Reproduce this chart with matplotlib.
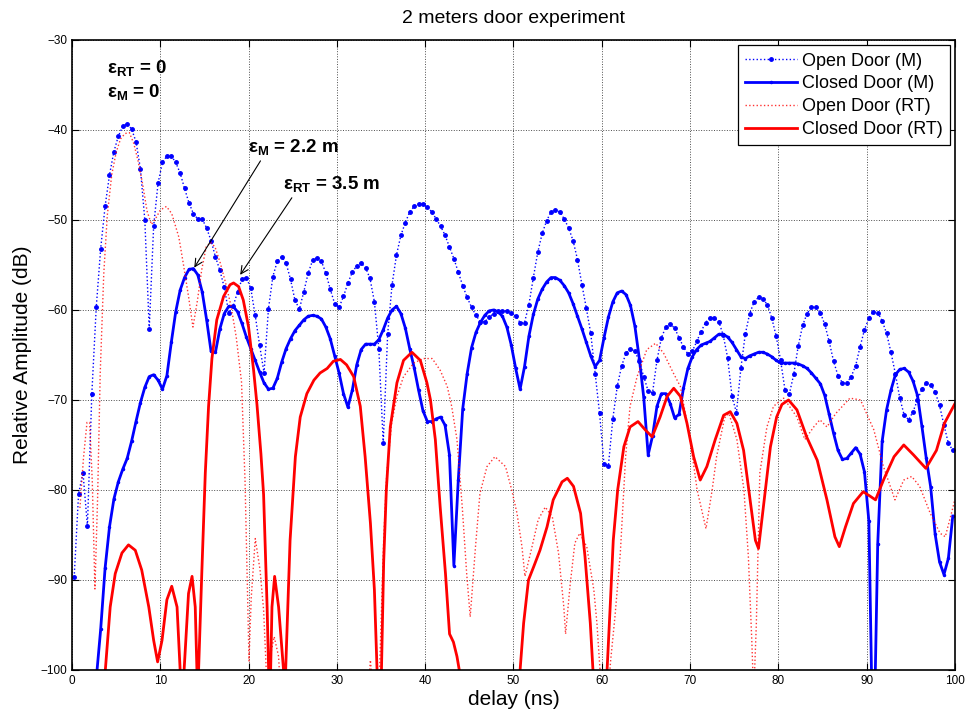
import numpy as np
import matplotlib
matplotlib.use("Agg")
import matplotlib.pyplot as plt

plt.rcParams['font.family'] = ['Liberation Sans', 'DejaVu Sans']
plt.rcParams['mathtext.fontset'] = 'custom'
plt.rcParams['mathtext.rm'] = 'Liberation Sans'
plt.rcParams['mathtext.bf'] = 'Liberation Sans:bold'

# measured data: one sample every 0.5 ns
delay_m = np.arange(0.25, 100, 0.5)

open_m = [
    -89.7, -80.4, -78.1, -84.0, -69.3, -59.7, -53.2, -48.5, -45.0, -42.4,
    -40.7, -39.6, -39.3, -39.9, -41.3, -44.3, -50.0, -62.1, -50.7, -45.9,
    -43.6, -42.9, -42.9, -43.6, -44.8, -46.5, -48.1, -49.3, -49.9, -49.9,
    -50.9, -52.3, -54.1, -55.6, -57.5, -60.3, -59.6, -58.0, -56.6, -56.4,
    -57.6, -60.6, -63.9, -67.0, -59.9, -56.3, -54.6, -54.1, -54.8, -56.6,
    -58.9, -59.9, -58.0, -55.9, -54.5, -54.2, -54.6, -55.9, -57.7, -59.3,
    -59.7, -58.5, -57.0, -55.8, -55.1, -54.8, -55.3, -56.5, -59.1, -64.3,
    -74.8, -62.7, -57.2, -53.9, -51.7, -50.3, -49.1, -48.5, -48.2, -48.2,
    -48.6, -49.1, -49.9, -50.7, -51.7, -53.0, -54.3, -55.8, -57.3, -58.6,
    -59.7, -60.6, -61.3, -61.3, -60.8, -60.4, -60.1, -60.1, -60.1, -60.3,
    -60.7, -61.4, -61.4, -59.4, -56.4, -53.6, -51.5, -50.1, -49.1, -48.9,
    -49.1, -49.9, -50.9, -52.3, -54.4, -57.2, -59.8, -62.6, -67.1, -71.5,
    -77.1, -77.3, -72.1, -68.5, -66.2, -64.8, -64.3, -64.6, -65.7, -67.4,
    -69.0, -69.2, -65.6, -63.1, -61.9, -61.6, -62.0, -63.1, -64.1, -64.9,
    -64.6, -63.5, -62.4, -61.4, -60.9, -60.9, -61.3, -62.8, -65.3, -69.6,
    -71.4, -66.5, -62.7, -60.4, -59.1, -58.6, -58.8, -59.4, -60.9, -62.9,
    -65.6, -68.9, -69.3, -67.1, -64.0, -61.7, -60.4, -59.7, -59.7, -60.3,
    -61.6, -63.5, -65.7, -67.3, -68.1, -68.1, -67.4, -66.2, -64.1, -62.2,
    -60.9, -60.2, -60.3, -61.2, -62.6, -64.7, -67.1, -69.8, -71.7, -72.2,
    -71.3, -70.0, -68.8, -68.1, -68.3, -69.1, -70.6, -72.8, -74.8, -75.6,
]

closed_m = [
    np.nan, np.nan, np.nan, np.nan, np.nan, -101, -95.5, -88.7, -84.1, -81.0,
    -79.1, -77.7, -76.5, -74.6, -72.4, -70.3, -68.6, -67.4, -67.2, -67.8,
    -68.8, -67.3, -63.6, -60.2, -57.8, -56.4, -55.5, -55.4, -56.1, -58.0,
    -61.1, -64.6, -64.7, -62.1, -60.4, -59.6, -59.6, -60.2, -61.5, -63.0,
    -64.3, -65.6, -66.9, -68.1, -68.8, -68.7, -67.6, -65.8, -64.3, -63.2,
    -62.3, -61.7, -61.1, -60.7, -60.6, -60.7, -61.0, -61.9, -63.2, -65.1,
    -67.0, -69.3, -70.8, -68.9, -66.1, -64.4, -63.8, -63.8, -63.8, -63.3,
    -62.2, -60.9, -60.0, -59.6, -60.4, -62.0, -64.3, -66.4, -68.9, -71.2,
    -72.4, -72.4, -72.1, -71.9, -72.8, -76.1, -88.4, -78.9, -71.0, -67.1,
    -64.2, -62.5, -61.4, -60.6, -60.1, -60.0, -60.2, -60.7, -61.9, -63.9,
    -66.5, -68.8, -66.3, -62.9, -60.5, -58.8, -57.7, -56.9, -56.4, -56.4,
    -56.7, -57.3, -58.1, -59.3, -60.7, -62.1, -63.6, -65.1, -66.3, -65.6,
    -63.1, -60.8, -59.1, -58.1, -57.9, -58.3, -59.5, -61.8, -65.4, -69.7,
    -76.1, -74.0, -70.7, -69.3, -69.3, -70.4, -72.0, -71.6, -68.7, -66.5,
    -65.2, -64.4, -63.9, -63.7, -63.5, -63.1, -62.7, -62.7, -63.0, -63.6,
    -64.4, -65.2, -65.4, -65.1, -64.9, -64.7, -64.7, -64.9, -65.2, -65.6,
    -65.9, -65.9, -65.9, -65.9, -66.0, -66.2, -66.5, -67.0, -67.6, -68.2,
    -69.5, -71.6, -73.7, -75.6, -76.6, -76.5, -75.9, -75.3, -76.0, -78.0,
    -83.5, -112.0, -86.0, -74.6, -71.1, -68.9, -67.2, -66.6, -66.5, -66.9,
    -67.9, -69.5, -72.9, -76.5, -79.7, -84.9, -88.0, -89.4, -87.6, -82.9,
]

delay_open_rt = [
    0.9, 1.3, 1.7, 2.0, 2.3, 2.6, 2.9, 3.2, 3.6, 4.0, 4.5, 5.0, 5.5, 6.0, 6.5,
    7.0, 7.5, 8.0, 8.5, 9.0, 9.5, 10.0, 10.7, 11.3, 12.1, 12.6, 13.2, 13.7,
    14.2, 14.7, 15.2, 15.7, 16.2, 16.8, 17.4, 18.0, 18.6, 19.2, 19.6, 19.85,
    20.05, 20.3, 20.76, 21.3, 21.7, 22.0, 22.2, 22.45, 22.9, 23.4, 23.7,
    33.4, 33.8, 34.2, 34.7, 34.9, 35.3, 35.65, 36.2, 36.8, 37.55, 38.7, 39.8,
    40.8, 41.7, 42.5, 43.0, 43.6, 44.2, 44.7, 45.1, 45.7, 46.2, 47.0, 47.9,
    49.1, 49.8, 50.4, 50.96, 51.3, 52.1, 52.8, 53.6, 54.4, 55.1, 55.7, 55.9,
    56.4, 56.95, 57.5, 58.3, 59.1, 59.45, 59.8, 60.0, 60.6, 61.0, 61.5, 62.1,
    62.7, 63.2, 64.0, 65.1, 66.1, 67.0, 68.1, 68.9, 70.0, 70.8, 71.8, 72.5,
    73.0, 73.9, 74.4, 75.3, 76.1, 76.6, 77.0, 77.2, 77.5, 77.9, 78.7, 79.45,
    80.6, 82.1, 83.0, 84.0, 84.7, 85.5, 86.5, 88.1, 89.3, 90.8, 91.9, 93.2,
    94.2, 95.1, 96.0, 97.2, 98.3, 98.9, 99.7, 100.0,
]
open_rt = [
    -82, -76.5, -72.5, -72.5, -79, -91, -81, -67, -56, -49.5, -45, -42.5, -41,
    -40.4, -40.3, -41.5, -43.5, -46, -49, -50.5, -49.8, -48.9, -48.5, -49.3,
    -51.9, -54.8, -58.5, -61.9, -59, -55.5, -53, -52.5, -53, -54.8, -57,
    -59.5, -63, -68, -79, -90, -99, -92, -85.4, -88.9, -93.3, -100, -100.5,
    -98.5, -96.3, -98.5, -104,
    -104, -98.9, -104, -104, -98, -85.6, -78.1, -72.6, -69.6, -67.4, -65.9,
    -65.4, -65.4, -66.7, -68.5, -70.7, -74.4, -81.9, -89.3, -94.1, -86.3,
    -80.4, -77.4, -76.3, -77.4, -80, -82.6, -86.3, -89.6, -86.3, -83.3,
    -81.9, -83, -87, -93, -96, -90.7, -85.9, -84.8, -86.3, -91.1, -94.8,
    -100, -104, -104, -99, -94, -87, -76.3, -70.7, -67.4, -64.4, -63.7,
    -64.8, -67.0, -68.5, -74.4, -80, -84.3, -80, -76.3, -72, -71.5, -74.4,
    -80, -87.4, -97, -103, -95, -78.1, -73, -70.7, -69.8, -71.9, -74.4,
    -73, -72.2, -73, -71.5, -69.8, -70, -73.3, -77.4, -81.1, -78.9, -78.5,
    -79.6, -82.6, -84.8, -85.2, -82.2, -81,
]

delay_closed_rt = [
    3.7, 4.33, 4.9, 5.66, 6.4, 7.17, 7.9, 8.7, 9.25, 9.7, 10.2, 10.75, 11.3,
    11.9, 12.2, 12.45, 12.7, 13.2, 13.6, 13.96, 14.15, 14.25, 14.34, 14.7,
    15.1, 15.47, 15.85, 16.4, 17.17, 17.9, 18.3, 18.87, 19.4, 20.0, 20.57,
    20.95, 21.4, 21.7, 22.1, 22.27, 22.4, 22.5, 22.65, 22.95, 23.4, 23.96,
    24.1, 24.2, 24.7, 25.3, 25.85, 26.6, 27.4, 28.1, 28.9, 29.6, 30.4, 31.1,
    31.9, 32.65, 33.2, 33.8, 34.25, 34.55, 34.8, 35.05, 35.3, 35.6, 36.05,
    36.8, 37.55, 38.5, 39.45, 40.2, 40.6, 41.15, 41.7, 42.3, 42.76, 43.2,
    43.6, 43.86, 44.0, 50.6, 50.75, 51.15, 51.7, 52.3, 53.0, 53.8, 54.5,
    55.5, 56.1, 56.8, 57.6, 58.1, 58.7, 59.0, 59.1, 60.5, 60.6, 60.95, 61.3,
    61.8, 62.5, 63.2, 64.1, 64.9, 65.7, 66.6, 67.4, 68.15, 68.9, 69.65, 70.4,
    71.15, 71.9, 72.85, 73.8, 74.55, 75.3, 76.06, 76.8, 77.4, 77.75, 78.3,
    79.1, 79.8, 80.4, 81.15, 82.1, 83.2, 84.4, 85.5, 86.4, 86.9, 87.6, 88.5,
    89.6, 90.4, 91.0, 91.9, 93.1, 94.2, 95.3, 96.7, 97.9, 98.8, 100.0,
]
closed_rt = [
    -101, -93, -89.3, -87.0, -86.1, -86.7, -88.9, -93.0, -96.7, -99.1, -96.7,
    -92.2, -90.7, -93, -99, -104, -100, -91.5, -89.6, -93, -100, -103, -100,
    -89.3, -78.1, -70.7, -65.4, -61.1, -58.5, -57.2, -57.0, -57.4, -58.9,
    -61.9, -66.7, -70.5, -76, -80.5, -93, -100, -103, -100, -93, -89.6, -93,
    -100, -103, -100, -85.6, -76.3, -71.9, -69.3, -67.8, -67.0, -66.5, -65.7,
    -65.5, -66.1, -67.4, -70.7, -76.3, -83.7, -91.1, -100, -104, -100, -88,
    -80, -73, -68.1, -65.6, -64.7, -65.6, -68.1, -70, -74.4, -81.9, -89.3,
    -96, -96.9, -98.5, -100, -104, -104, -100, -94.8, -90, -88.5, -86.7,
    -84.1, -81.1, -79.1, -78.7, -79.6, -82.6, -87.4, -94.8, -100, -104, -104,
    -100, -93, -85.6, -80, -75.2, -73.0, -72.4, -73.3, -74.1, -71.9, -69.6,
    -68.7, -69.6, -72.6, -76.3, -78.9, -77.4, -74.4, -71.7, -71.3, -72.6,
    -75.6, -81.1, -85.6, -86.5, -81.9, -75.2, -71.9, -70.5, -70, -71.1, -74.1,
    -76.7, -81.1, -85.2, -86.3, -84.1, -81.5, -80.2, -80.7, -81.1, -78.9,
    -76.3, -75.0, -76.1, -77.6, -75.6, -72.6, -70.4,
]

plt.figure(figsize=(9.66, 7.17), dpi=100)
ax = plt.axes([0.0745, 0.0656, 0.9141, 0.8787])

ax.plot(delay_m, open_m, ':', color='blue', lw=1.0, marker='.', markersize=5,
        label='Open Door (M)')
ax.plot(delay_m, closed_m, '-', color='blue', lw=2.0, marker='.', markersize=3,
        label='Closed Door (M)')
ax.plot(delay_open_rt, open_rt, ':', color='red', lw=1.0, alpha=0.8,
        label='Open Door (RT)')
ax.plot(delay_closed_rt, closed_rt, '-', color='red', lw=2.0,
        label='Closed Door (RT)')

ax.set_xlim(0, 100)
ax.set_ylim(-100, -30)
ax.set_xticks(range(0, 101, 10))
ax.set_yticks(range(-100, -29, 10))
ax.tick_params(direction='in', top=True, right=True, labelsize=8.5, length=5)
ax.grid(True, linestyle=':', color='black', lw=0.7, alpha=0.7)
for s in ax.spines.values():
    s.set_linewidth(1.2)

ax.set_title('2 meters door experiment', fontsize=14, pad=12)
ax.set_xlabel('delay (ns)', fontsize=15, labelpad=2)
ax.set_ylabel('Relative Amplitude (dB)', fontsize=15, labelpad=6)

leg = ax.legend(loc='upper right', fontsize=13, handlelength=2.9,
                numpoints=1, fancybox=False, framealpha=1,
                edgecolor='black', borderpad=0.4, labelspacing=0.32,
                handletextpad=0.25, borderaxespad=0.3)
leg.get_frame().set_linewidth(0.9)

ax.text(4.0, -33.2, r'ε$_{\mathbf{RT}}$ = 0', fontsize=13.5,
        fontweight='bold', va='center')
ax.text(4.0, -35.9, r'ε$_{\mathbf{M}}$ = 0', fontsize=13.5,
        fontweight='bold', va='center')

ax.annotate(r'ε$_{\mathbf{M}}$ = 2.2 m', xy=(13.85, -55.3),
            xytext=(19.9, -42.0), fontsize=13.5, fontweight='bold',
            va='center',
            arrowprops=dict(arrowstyle='->', color='black', lw=0.8,
                            shrinkA=0, shrinkB=0,
                            relpos=(0.16, 0.0)))
ax.annotate(r'ε$_{\mathbf{RT}}$ = 3.5 m', xy=(19.05, -56.1),
            xytext=(23.9, -46.1), fontsize=13.5, fontweight='bold',
            va='center',
            arrowprops=dict(arrowstyle='->', color='black', lw=0.8,
                            shrinkA=0, shrinkB=0,
                            relpos=(0.11, 0.0)))

plt.savefig('out.png', dpi=100)
